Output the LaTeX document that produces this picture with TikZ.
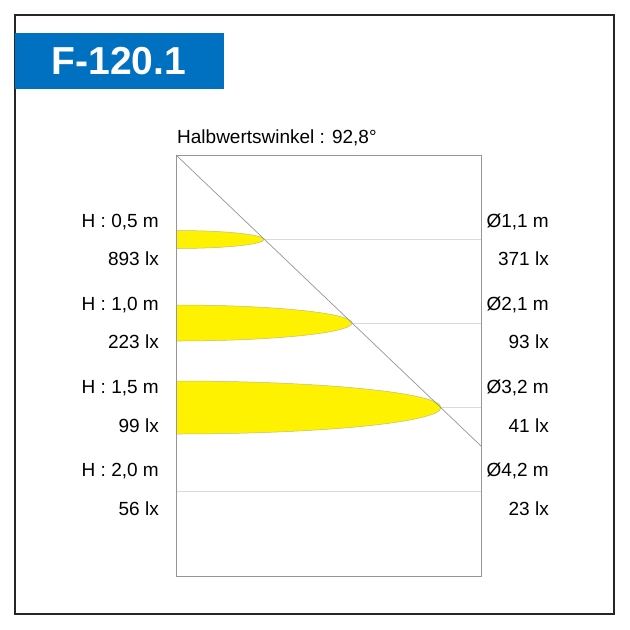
\documentclass[tikz,border=0pt]{standalone}
\usepackage{fontspec}
\setmainfont{Liberation Sans}
\definecolor{titleblue}{RGB}{0,112,192}
\definecolor{framegray}{RGB}{150,150,150}
\definecolor{gridgray}{RGB}{218,218,218}
\definecolor{lobeline}{RGB}{190,190,120}

\begin{document}
\begin{tikzpicture}[x=1pt,y=-1pt]
\tikzstyle{every node}=[font=\fontsize{19}{22}\selectfont, inner sep=0pt]
\tikzstyle{lobe}=[fill=yellow, draw=lobeline, line width=0.5pt]
\tikzstyle{boxline}=[draw=framegray, line width=0.8pt]
\tikzstyle{grid}=[draw=gridgray, line width=0.8pt]
\useasboundingbox (0,0) rectangle (630,630);
\fill[white] (0,0) rectangle (630,630);

% frame and title
\draw[line width=1.3pt, draw=black!85] (15,15) rectangle (614,614);
\fill[titleblue] (15,33) rectangle (224,89);
\node[text=white, font=\fontsize{39}{44}\selectfont\bfseries] (title) at (119,61) {F-120.1};
\node[anchor=base west] (angle) at (177,143.3) {Halbwertswinkel : 92,8°};

% light cones
\begin{scope}
\clip (176,155) rectangle (481,576);
\foreach \c/\a/\h in {239.5/88/9, 323/176/18, 407.5/265/26.5}
  \draw[lobe] (176,\c) ellipse [x radius=\a, y radius=\h];
\end{scope}

% distance lines
\draw[grid] (264,239.5) -- (481,239.5);
\draw[grid] (352,323) -- (481,323);
\draw[grid] (441,407.5) -- (481,407.5);
\draw[grid] (176,491.5) -- (481,491.5);

% chart box
\coordinate (tl) at (176,155);
\coordinate (edge) at (481,446);
\draw[boxline] (tl) rectangle (481,576);
\draw[boxline, line width=0.7pt] (tl) -- (edge);

% labels
\foreach \hh/\el/\dd/\er [count=\i] in {{0,5}/893/{1,1}/371, {1,0}/223/{2,1}/93, {1,5}/99/{3,2}/41, {2,0}/56/{4,2}/23}{
  \pgfmathsetmacro\ya{227+(\i-1)*83.2}
  \pgfmathsetmacro\yb{265.7+(\i-1)*83.2}
  \node[anchor=base east] (h\i) at (159,\ya) {H : \hh\ m};
  \node[anchor=base east] (el\i) at (159,\yb) {\el\ lx};
  \node[anchor=base east] (d\i) at (549,\ya) {Ø\dd\ m};
  \node[anchor=base east] (er\i) at (549,\yb) {\er\ lx};
}
\end{tikzpicture}
\end{document}
